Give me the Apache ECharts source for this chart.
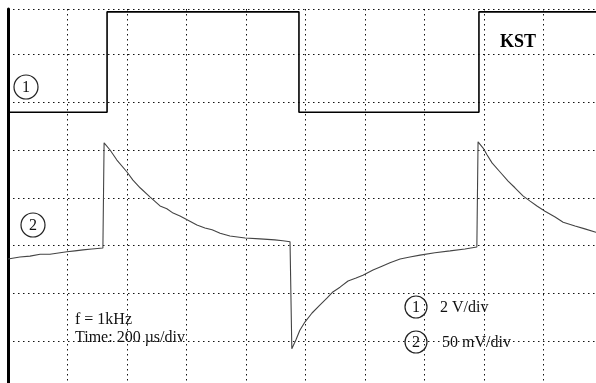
<!DOCTYPE html>
<html>
<head>
<meta charset="utf-8">
<script src="https://cdn.jsdelivr.net/npm/echarts@6/dist/echarts.min.js"></script>
<style>
html,body{margin:0;padding:0;background:#fff;}
#chart{width:596px;height:383px;}
</style>
</head>
<body>
<div id="chart"></div>
<script>
// time in µs (200 µs/div), amplitude in screen divisions from bottom
const ch1Time = [0, 333, 333, 978, 978, 1583, 1583, 2000];
const ch1Div  = [5.79, 5.79, 7.89, 7.89, 5.79, 5.79, 7.89, 7.89];

const ch2Time = [0,40,74,108,141,175,198,225,252,282,319,323,323,329,343,366,400,420,444,477,511,534,555,578,602,635,662,686,713,746,797,847,897,924,948,951,954,968,981,998,1022,1049,1072,1092,1116,1143,1170,1193,1227,1257,1284,1318,1351,1385,1435,1486,1536,1576,1580,1580,1586,1597,1610,1627,1654,1681,1704,1731,1755,1778,1805,1839,1866,1906,1939,1976,2000];
const ch2Div  = [2.72,2.76,2.78,2.82,2.82,2.85,2.87,2.89,2.91,2.93,2.95,2.95,5.15,5.17,5.00,4.79,4.54,4.37,4.21,4.02,3.83,3.77,3.68,3.62,3.54,3.43,3.37,3.33,3.26,3.20,3.16,3.14,3.12,3.10,3.08,3.08,0.84,1.03,1.23,1.40,1.59,1.76,1.90,2.03,2.13,2.26,2.32,2.38,2.49,2.57,2.64,2.72,2.76,2.80,2.85,2.89,2.93,2.97,2.97,5.17,5.19,5.04,4.90,4.73,4.54,4.35,4.21,4.04,3.93,3.83,3.72,3.60,3.49,3.41,3.35,3.28,3.24];

const labels = {
  title: 'KST',
  freq: 'f = 1kHz',
  time: 'Time: 200 µs/div',
  ch1: '2 V/div',
  ch2: '50 mV/div'
};

const ch1 = ch1Time.map((t, i) => [t, ch1Div[i]]);
const ch2 = ch2Time.map((t, i) => [t, ch2Div[i]]);

const serif = '"Liberation Serif", "DejaVu Serif", serif';
const dotted = { color: '#111', width: 1, type: [1.5, 3.5] };

function circled(cx, cy, r, txt) {
  return [
    { type: 'circle', shape: { cx: cx, cy: cy, r: r }, style: { fill: 'none', stroke: '#222', lineWidth: 1.2 }, z: 10 },
    { type: 'text', x: cx, y: cy + 1, style: { text: txt, fontFamily: serif, fontSize: 16, fill: '#111', align: 'center', verticalAlign: 'middle' }, z: 10 }
  ];
}

const chart = echarts.init(document.getElementById('chart'), null, { renderer: 'canvas' });
chart.setOption({
  animation: false,
  backgroundColor: '#fff',
  grid: { left: 8, top: 9, width: 595, height: 380, outerBoundsMode: 'none', containLabel: false },
  xAxis: {
    type: 'value', position: 'top', min: 0, max: 2000, interval: 200,
    axisLine: { show: true, lineStyle: { color: '#000', width: 1.5 } },
    axisTick: { show: false }, axisLabel: { show: false },
    splitLine: { show: true, lineStyle: dotted }
  },
  yAxis: {
    type: 'value', min: 0, max: 7.95, interval: 1,
    axisLine: { show: true, onZero: false, lineStyle: { color: '#000', width: 3 } },
    axisTick: { show: false }, axisLabel: { show: false },
    splitLine: { show: true, lineStyle: dotted }
  },
  series: [
    { type: 'line', data: ch1, showSymbol: false, lineStyle: { color: '#000', width: 1.6 }, z: 3 },
    { type: 'line', data: ch2, showSymbol: false, lineStyle: { color: '#444', width: 1.1 }, z: 3 }
  ],
  graphic: [
    { type: 'text', x: 518, y: 42, style: { text: labels.title, fontFamily: serif, fontWeight: 'bold', fontSize: 18, fill: '#000', align: 'center', verticalAlign: 'middle' }, z: 10 },
    { type: 'text', x: 75, y: 320, style: { text: labels.freq, fontFamily: serif, fontSize: 16, fill: '#111', align: 'left', verticalAlign: 'middle' }, z: 10 },
    { type: 'text', x: 75, y: 338, style: { text: labels.time, fontFamily: serif, fontSize: 16, fill: '#111', align: 'left', verticalAlign: 'middle' }, z: 10 },
    { type: 'text', x: 440, y: 308, style: { text: labels.ch1, fontFamily: serif, fontSize: 16, fill: '#111', align: 'left', verticalAlign: 'middle' }, z: 10 },
    { type: 'text', x: 442, y: 343, style: { text: labels.ch2, fontFamily: serif, fontSize: 16, fill: '#111', align: 'left', verticalAlign: 'middle' }, z: 10 }
  ].concat(circled(26, 87, 12, '1'), circled(33, 225, 12, '2'), circled(416, 307, 11, '1'), circled(416, 342, 11, '2'))
});
</script>
</body>
</html>
